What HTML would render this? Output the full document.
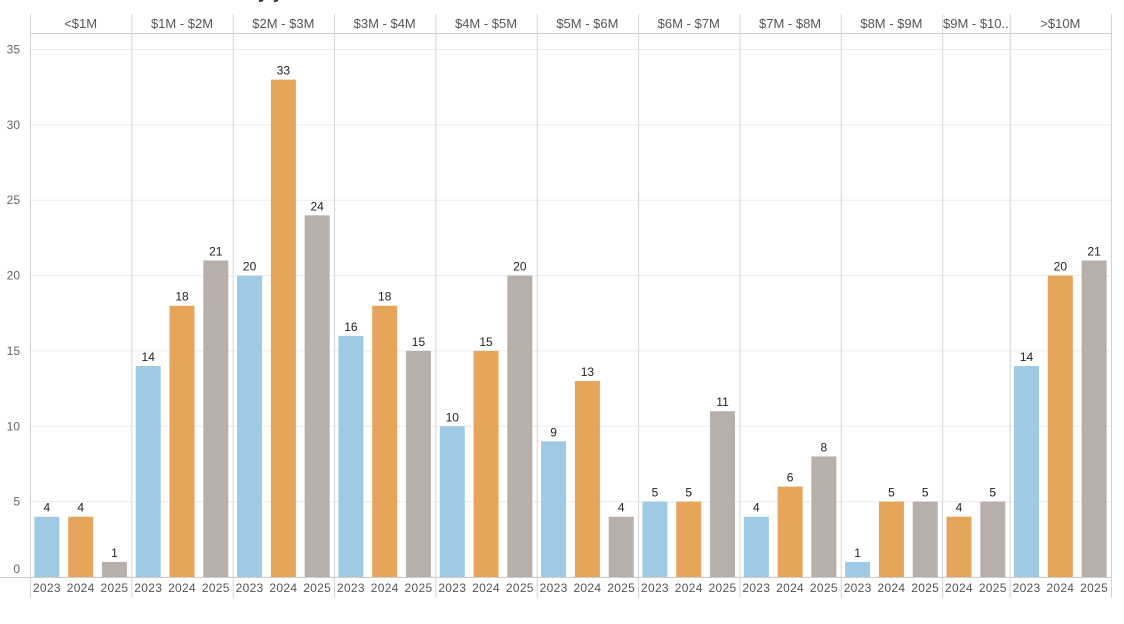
<!DOCTYPE html>
<html><head><meta charset="utf-8"><style>
body{margin:0;background:#fff;width:1124px;height:619px;overflow:hidden;font-family:"Liberation Sans",sans-serif}
svg text{font-family:"Liberation Sans",sans-serif}
</style></head><body>
<svg id="c" width="1124" height="619">
<text x="190" y="-2" font-size="18" font-weight="bold" fill="#333">Count by year</text>
</svg>
<script>
const categories=["<$1M","$1M - $2M","$2M - $3M","$3M - $4M","$4M - $5M","$5M - $6M","$6M - $7M","$7M - $8M","$8M - $9M","$9M - $10..",">$10M"];
const years2023=[4,14,20,16,10,9,5,4,1,null,14];
const years2024=[4,18,33,18,15,13,5,6,5,4,20];
const years2025=[1,21,24,15,20,4,11,8,5,5,21];
const yTicks=[0,5,10,15,20,25,30,35];
const yearLabels=["2023","2024","2025"];
const colors=["#9ecae6","#e5a55a","#b9afaa"];
const svg=document.getElementById('c');
const NS="http://www.w3.org/2000/svg";
const L=30,R=1111,base=577,top35=49.5,yMax=35;
const y=v=>base-(base-top35)*v/yMax;
function mk(t,a){const e=document.createElementNS(NS,t);for(const k in a)e.setAttribute(k,a[k]);svg.appendChild(e);return e;}
let slots=0;const panels=[];
categories.forEach((c,i)=>{const ys=[years2023[i],years2024[i],years2025[i]].map((v,j)=>({v,j})).filter(o=>o.v!==null);panels.push({c,ys,start:slots});slots+=ys.length;});
const sw=(R-L)/slots;
yTicks.forEach(t=>{const l=mk('line',{x1:L,x2:R,y1:y(t),y2:y(t),stroke:'#ececec','stroke-width':1});

const tx=mk('text',{x:20,y:t===0?y(t)-4:y(t)+4,'font-size':12,fill:'#666','text-anchor':'end'});tx.textContent=t;
});
mk('line',{x1:L,x2:R,y1:33.5,y2:33.5,stroke:'#ccc'});
mk('line',{x1:0,x2:R,y1:base+0.5,y2:base+0.5,stroke:'#ccc'});
panels.forEach((p,i)=>{
 const x0=L+p.start*sw,w=p.ys.length*sw;
 const sep=mk('line',{x1:x0+0.5,x2:x0+0.5,y1:14,y2:598,stroke:'#d4d4d4'});
 
 const h=mk('text',{x:x0+w/2,y:28,'font-size':13,fill:'#555','text-anchor':'middle'});h.textContent=p.c;
 
 p.ys.forEach((o,k)=>{
  const cx=x0+(k+0.5)*sw;
  const b=mk('rect',{x:cx-12.5,y:y(o.v),width:25,height:base-y(o.v),fill:colors[o.j]});
  
  const vl=mk('text',{x:cx,y:y(o.v)-5,'font-size':12,fill:'#222','text-anchor':'middle'});vl.textContent=o.v;
  
  const yl=mk('text',{x:cx,y:592,'font-size':12,fill:'#555','text-anchor':'middle','letter-spacing':'0.3'});yl.textContent=yearLabels[o.j];
  
 });
});
const last=mk('line',{x1:R+0.5,x2:R+0.5,y1:14,y2:598,stroke:'#d4d4d4'});

</script>
</body></html>
